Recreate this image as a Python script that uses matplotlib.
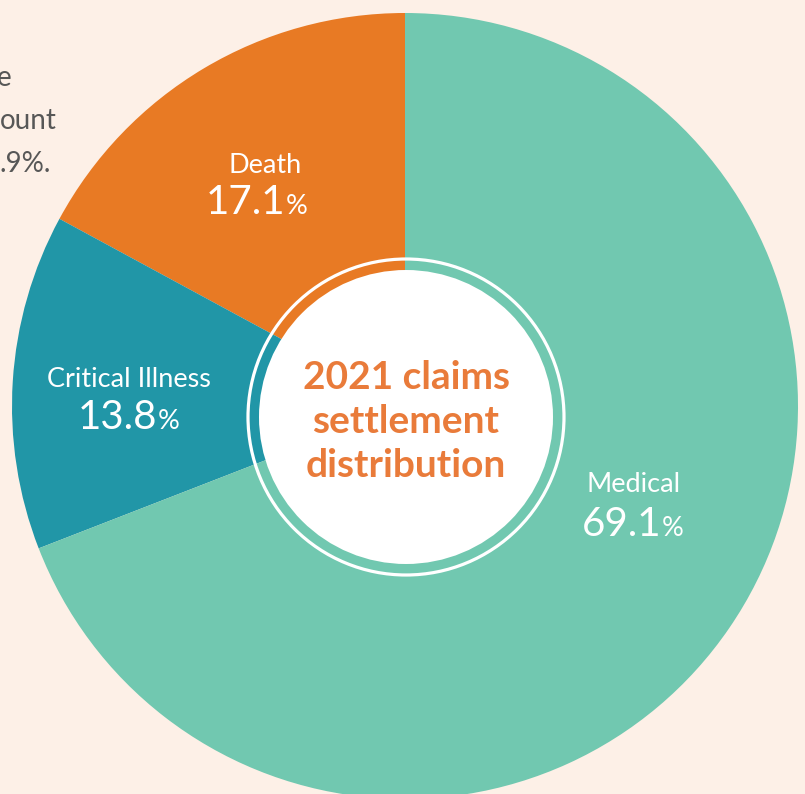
import matplotlib.pyplot as plt
from matplotlib.patches import Circle

# data
categories = ['Death', 'Critical Illness', 'Medical']
shares = [17.1, 13.8, 69.1]
colors = ['#E87A24', '#2196A7', '#71C8B0']
center_title = ['2021 claims', 'settlement', 'distribution']
side_lines = ['e', 'ount', '.9%.']   # only the visible tail of a cut-off paragraph

bg = '#FDF0E7'
orange_txt = '#E97B3A'

fig = plt.figure(figsize=(8.05, 7.94), dpi=100, facecolor=bg)
ax = fig.add_axes([0, 0, 1, 1])
ax.set_facecolor(bg)

# pixel-like coordinates, y going down
ax.pie(shares, colors=colors, startangle=-90, counterclock=False,
       center=(405, 406), radius=393, frame=True,
       wedgeprops=dict(linewidth=0))

# inner ring + white hole
ax.add_patch(Circle((406, 417), 158, fill=False, ec='white', lw=2.3, zorder=5))
ax.add_patch(Circle((406, 417), 147, fc='white', ec='none', zorder=6))

ax.set_xlim(0, 805)
ax.set_ylim(794, 0)
ax.axis('off')

font = 'Lato'

# name centre x, name baseline, x of number right edge, number baseline
label_pos = {
    'Death': (265, 173, 285, 214),
    'Critical Illness': (129, 387, 157, 429),
    'Medical': (634, 492, 661, 536),
}
for cat, val in zip(categories, shares):
    xc, yb, xr, nb = label_pos[cat]
    ax.text(xc, yb, cat, color='white', fontsize=19.5, family=font,
            ha='center', va='baseline', zorder=7)
    ax.text(xr, nb, f'{val:.1f}', color='white', fontsize=29, family=font,
            ha='right', va='baseline', zorder=7)
    ax.text(xr + 1, nb, '%', color='white', fontsize=19.5, family=font,
            ha='left', va='baseline', zorder=7)

# center title
for i, line in enumerate(center_title):
    ax.text(406, 389 + i * 44, line, color=orange_txt, fontsize=28,
            fontweight='bold', family=font, ha='center', va='baseline', zorder=8)

# cut-off paragraph on the left
for i, line in enumerate(side_lines):
    ax.text([-3, 0, -1][i], 86 + i * 43, line, color='#575757', fontsize=20,
            family=font, ha='left', va='baseline', zorder=2)

fig.savefig('out.png', dpi=100, facecolor=bg)
